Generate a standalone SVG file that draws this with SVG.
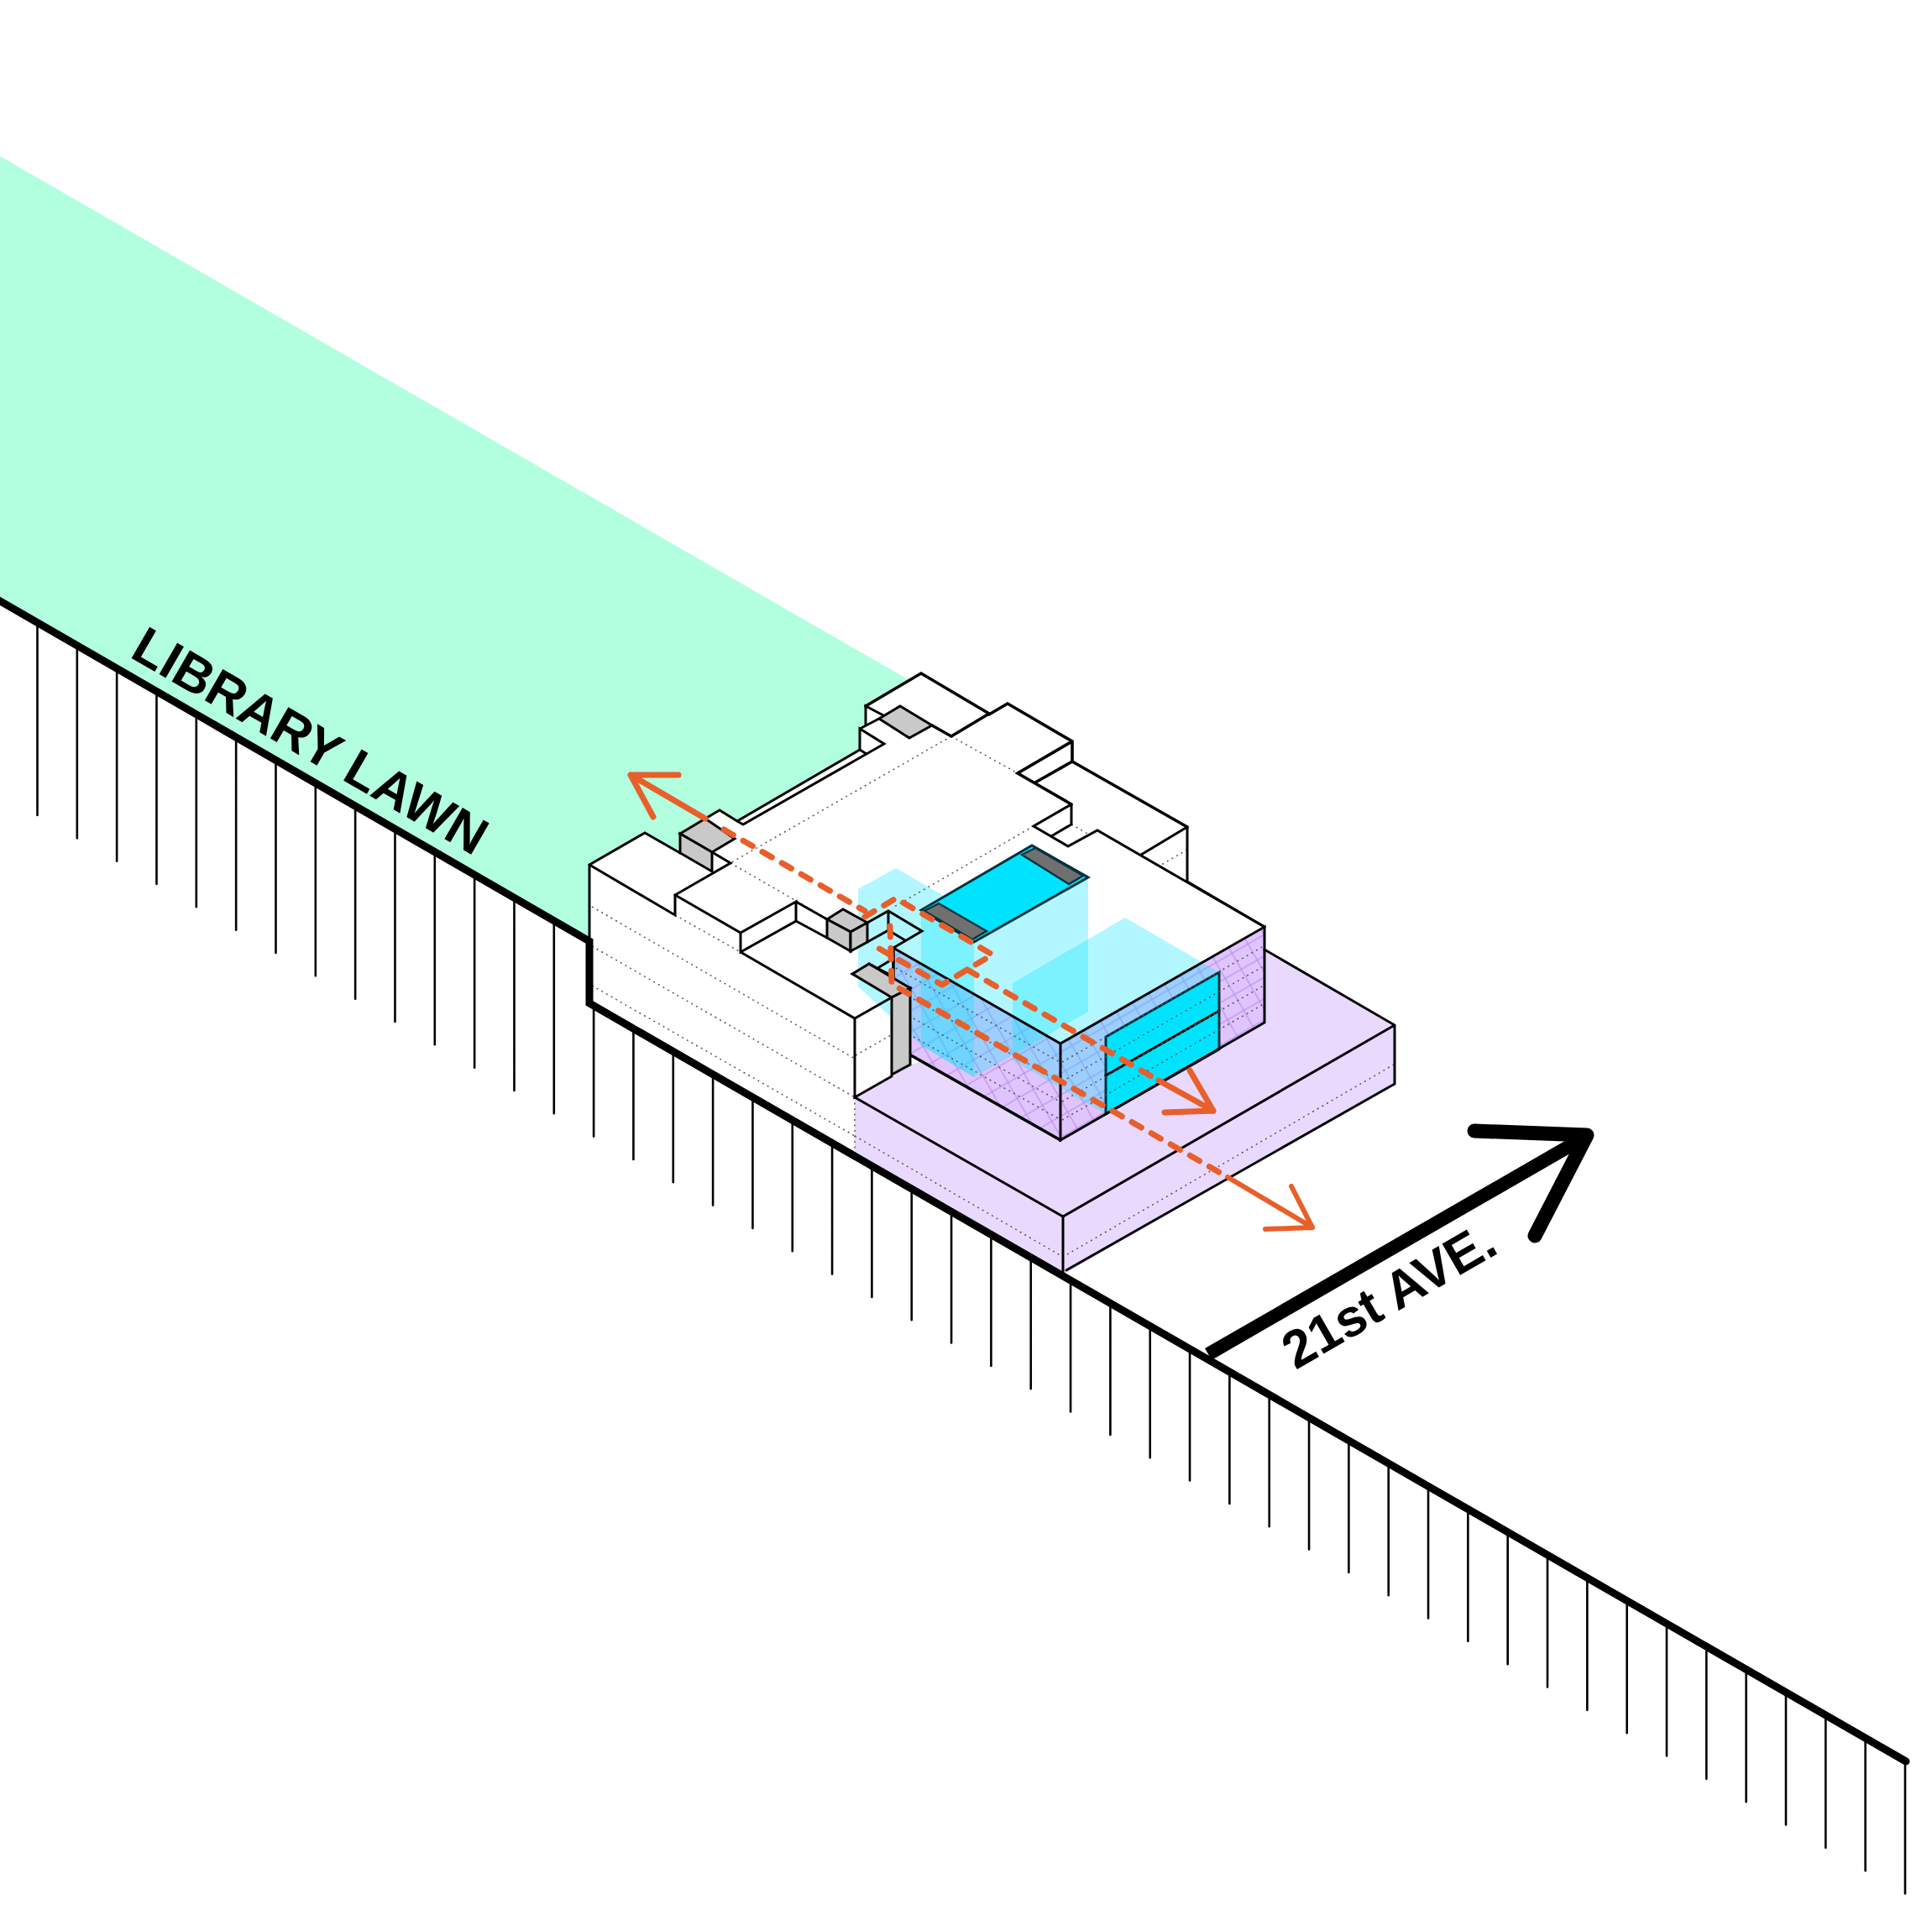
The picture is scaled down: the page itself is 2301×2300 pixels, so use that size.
<svg xmlns="http://www.w3.org/2000/svg" width="2301" height="2300" viewBox="0 0 2301 2300">
<style>
.ln{fill:none;stroke:#000;stroke-width:3;stroke-linejoin:miter;stroke-linecap:round}
.hv{fill:none;stroke:#000;stroke-width:3.6;stroke-linecap:round}
.dt{fill:none;stroke:#555;stroke-width:1.5;stroke-dasharray:2 4.5}
.gr{fill:#c9c9c9;stroke:#000;stroke-width:3;stroke-linejoin:miter}
.dk{fill:#707070;stroke:#06323c;stroke-width:2.4}
.cy{fill:#00e3ff;stroke:#06323c;stroke-width:3}
.ov{fill:#00e5ff;fill-opacity:.3}
.or{fill:none;stroke:#e85f2b;stroke-width:7;stroke-linecap:round;stroke-linejoin:round}
.da{stroke-dasharray:13 13.6}
.lb{font-family:"Liberation Sans",Arial,sans-serif;font-weight:700;font-size:62.5px;fill:#000}
</style>
<defs>
<pattern id="gA" width="22" height="22" patternUnits="userSpaceOnUse" patternTransform="rotate(60)"><path d="M0 1H22" stroke="#b98ae6" stroke-width="1.1" fill="none"/></pattern>
<pattern id="gB" width="22" height="22" patternUnits="userSpaceOnUse" patternTransform="rotate(-30)"><path d="M0 1H22" stroke="#b98ae6" stroke-width="1.1" fill="none"/></pattern>
<clipPath id="faces"><path d="M1064 1129L1263 1243L1506 1104V1218L1263 1358L1064 1243Z"/></clipPath>
</defs>
<rect width="2301" height="2300" fill="#fff"/>
<polygon id="lawn" points="0,186 1100,820 1000,1050 702,1121 0,716" fill="#b2ffe0"/>
<g id="masses">
<polygon fill="#fff" points="702,1030 768,992 810,1016 810,993 857,965 878,978 1024,893 1024,868 1031,863 1031,841 1097,802 1178,850 1200,838 1277,883 1277,907 1414,985 1414,1050 1506,1104 1263,1243 1085,1177 1085,1268 1018,1307 1018,1377 702,1195"/>
<polygon id="plinth" fill="#e9d9ff" points="1018,1307 1085,1268 1506,1131 1661,1221 1661,1291 1266,1518 1018,1377"/>
<polygon fill="#fff" points="1064,1129 1263,1243 1506,1104 1307,989 1272,1008 1180,960 1080,1050"/>
<polygon fill="#e0c4ff" points="1064,1129 1263,1243 1506,1104 1506,1218 1263,1358 1085,1257 1064,1240"/>
<g clip-path="url(#faces)"><rect x="1060" y="1100" width="450" height="260" fill="url(#gA)"/><rect x="1060" y="1100" width="450" height="260" fill="url(#gB)"/></g>
</g>
<g id="voids">
<polygon class="ov" points="1022,1059 1067,1034 1150,1082 1097,1084 1097,1245 1022,1175"/>
<polygon class="ov" points="1097,1084 1229,1007 1296,1045 1296,1205 1160,1283 1097,1245"/>
<polygon class="ov" points="1097,1084 1160,1122 1160,1283 1097,1245"/>
<polygon class="ov" points="1206,1171 1340,1093 1452,1158 1452,1250 1317,1327 1206,1263"/>
<polygon class="cy" points="1097,1084 1229,1007 1296,1045 1160,1122"/>
<polygon class="dk" points="1101,1085 1118,1076 1175,1109 1158,1119"/>
<polygon class="dk" points="1217,1018 1233,1010 1290,1043 1273,1053"/>
<polygon class="cy" points="1317,1235 1452,1158 1452,1250 1317,1327"/>
<path class="ln" d="M1317 1281L1452 1204"/>
</g>
<g id="dotted">
<path class="dt" d="M705 1080L1018 1261M705 1127L1018 1307M705 1174L1018 1353M804 1090L882 1134M870 1028L1016 1112M1133 877L870 1028M1133 877L1212 921M1231 984L1065 1080M1276 982L1297 994M1414 1012L1380 1032M1019 1257L1085 1219"/>
<path class="dt" d="M1067 1153L1262 1265M1088 1190L1262 1288M1088 1213L1262 1312M1088 1235L1262 1333M1265 1265L1503 1128M1265 1288L1503 1152M1265 1312L1503 1175M1265 1334L1503 1197"/>
<path class="dt" d="M1018 1353L1266 1497L1660 1268M1018 1307V1375"/>
</g>
<g id="grey-cores">
<polygon class="gr" points="810,993 840,975 875,999 848,1015"/>
<polygon class="gr" points="810,993 848,1015 848,1038 810,1016"/>
<polygon class="gr" points="1047,856 1072,841 1110,864 1083,879"/>
<polygon class="gr" points="985,1095 1004,1083 1033,1099 1013,1110"/>
<polygon class="gr" points="985,1095 1013,1110 1013,1133 985,1117"/>
<polygon class="gr" points="1013,1110 1033,1099 1033,1122 1013,1133"/>
<polygon class="gr" points="1015,1160 1035,1148 1084,1177 1062,1188"/>
<polygon class="gr" points="1062,1188 1084,1177 1084,1268 1062,1280"/>
</g>
<g id="linework">
<path class="ln" d="M702 1030L768 992L810 1016M702 1030L804 1090V1066L870 1028L848 1015M840 975L857 965L878 978L1024 893V868L1053 886L885 982L878 978M1024 893L1032 898M1024 868L1047 856M1031 863V841L1052 852"/>
<path class="hv" d="M1031 841L1097 802L1178 850L1133 877L1110 864"/>
<path class="ln" d="M702 1030V1120M804 1066L882 1111L948 1074V1097L882 1134V1111M882 1134L1018 1213L1062 1188M948 1074L985 1095M948 1097L985 1117"/>
<path class="ln" d="M1033 1099L1058 1085L1098 1109L1064 1129M1058 1085V1108L1033 1122M1058 1108L1078 1120M1047 1152L1062 1143M1035 1148L1064 1163M1018 1213V1307L1062 1282"/>
<path class="hv" d="M1178 851L1200 838L1277 883V907L1414 985M1277 883L1212 921L1276 958M1277 907L1233 932"/>
<path class="ln" d="M1276 958L1231 984L1272 1008L1307 989L1506 1104M1276 958V982L1252 996M1414 985L1359 1018M1414 985V1050"/>
<path class="hv" d="M1064 1129V1163M1085 1257L1263 1358"/>
<path class="ln" d="M1064 1129L1263 1243L1506 1104V1218L1263 1358V1243"/>
<path class="ln" d="M1414 1050L1506 1104M1506 1131L1661 1221V1291M1018 1307L1266 1449L1661 1221M1266 1449V1515M1270 1513L1661 1291"/>
</g>
<g id="orange">
<path class="or" d="M808 923L751 923L778 973M751 923L840 975"/>
<path class="or da" d="M862 988L1030 1085"/>
<path class="or da" d="M1030 1092L1067 1070L1182 1137L1122 1173L1042 1127"/>
<path class="or da" d="M1060 1103L1062 1172L1462 1402"/>
<path class="or da" d="M1152 1155L1380 1287"/>
<path class="or" d="M1380 1287L1445 1323M1387 1325L1445 1323L1417 1275"/>
<path class="or" style="stroke-width:6" d="M1462 1402L1563 1462M1507 1464L1563 1462L1538 1413"/>
</g>
<g id="ground">
<path fill="none" stroke="#000" stroke-width="2.6" stroke-linecap="round" d="M44.5 742v229m47.33-201.67v229m47.33-201.67v229m47.33-201.67v229m47.33-201.67v229m47.33-201.67v229m47.33-201.67v229m47.33-201.67v229m47.33-201.67v229m47.33-201.67v229m47.33-201.67v229m47.33-201.67v229m47.33-201.67v229m47.33-201.67v229"/>
<path fill="none" stroke="#000" stroke-width="2.6" stroke-linecap="round" d="M707.1 1198v155.6m47.33-128.27v155.6m47.33-128.27v155.6m47.33-128.27v155.6m47.33-128.27v155.6m47.33-128.27v155.6m47.33-128.27v155.6m47.33-128.27v155.6m47.33-128.27v155.6m47.33-128.27v155.6m47.33-128.27v155.6m47.33-128.27v155.6m47.33-128.27v155.6m47.33-128.27v155.6m47.33-128.27v155.6m47.33-128.27v155.6m47.33-128.27v155.6m47.33-128.27v155.6m47.33-128.27v155.6m47.33-128.27v155.6m47.33-128.27v155.6m47.33-128.27v155.6m47.33-128.27v155.6m47.33-128.27v155.6m47.33-128.27v155.6m47.33-128.27v155.6m47.33-128.27v155.6m47.33-128.27v155.6m47.33-128.27v155.6m47.33-128.27v155.6m47.33-128.27v155.6m47.33-128.27v155.6m47.33-128.27v155.6m47.33-128.27v155.6"/>
<path fill="none" stroke="#000" stroke-width="9" stroke-linecap="round" stroke-linejoin="miter" d="M-5 713L702 1121V1195L2270 2098"/>
<path fill="none" stroke="#000" stroke-width="16" d="M1439 1613L1885 1356"/>
<path fill="none" stroke="#000" stroke-width="17" stroke-linecap="round" stroke-linejoin="round" d="M1756 1347L1890 1352L1828 1472"/>
</g>
<text class="lb" transform="translate(153,782) rotate(30)">LIBRARY LAWN</text>
<text class="lb" transform="translate(1543,1632) rotate(-30)">21st AVE.</text>
</svg>
